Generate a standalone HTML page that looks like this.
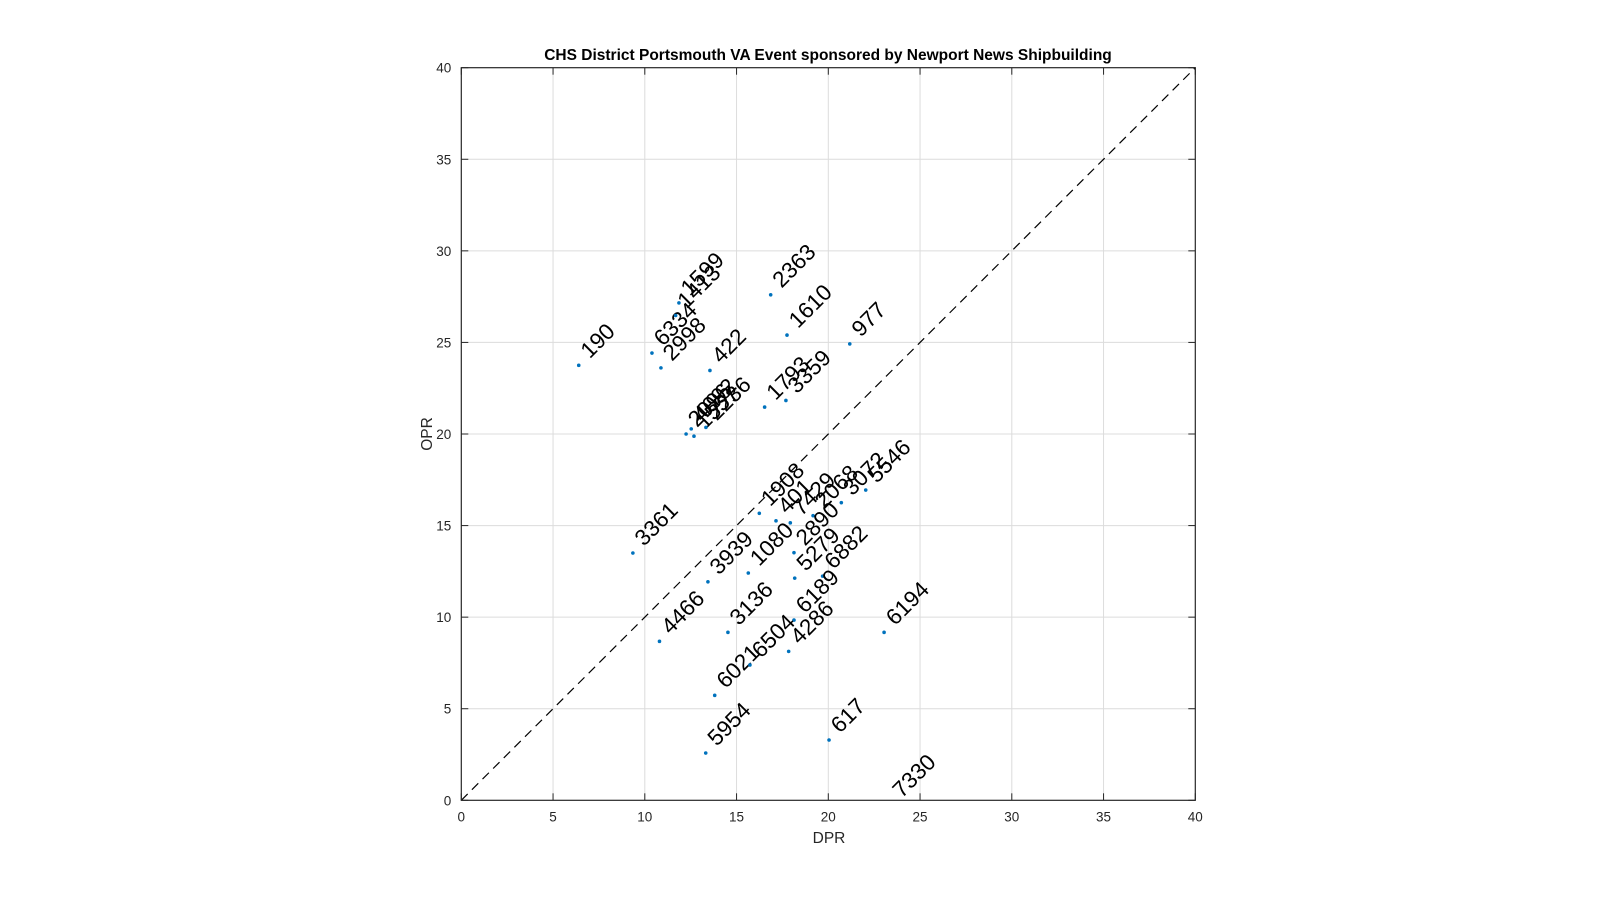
<!DOCTYPE html>
<html><head><meta charset="utf-8"><style>
body{margin:0;background:#fff;width:1600px;height:900px;overflow:hidden}
svg text{font-family:"Liberation Sans",Arial,sans-serif}
</style></head><body>
<svg id="chart" width="1600" height="900" xmlns="http://www.w3.org/2000/svg">
<rect width="1600" height="900" fill="#fff"/>
<g id="grid"></g>
<g id="marks"></g>
<g id="axes"></g>
<text x="828" y="60" text-anchor="middle" font-size="15.5" font-weight="bold">CHS District Portsmouth VA Event sponsored by Newport News Shipbuilding</text>
<text x="829" y="843" text-anchor="middle" font-size="15.5" fill="#262626">DPR</text>
<text transform="translate(432,434) rotate(-90)" text-anchor="middle" font-size="15.5" fill="#262626">OPR</text>
</svg>
<script>
const teams=["190","6334","2998","1599","1413","422","2363","1610","977","1793","3359","2096","4092","1557","2236","1908","401","7429","2068","3072","5546","2890","1080","3939","5279","6882","6189","3136","6194","4286","3361","4466","6021","6504","5954","617","7330"];
const dpr=[6.4,10.39,10.88,11.86,11.68,13.55,16.86,17.75,21.17,16.53,17.69,12.25,12.53,12.68,13.33,16.24,17.15,17.93,19.17,20.71,22.04,18.13,15.64,13.44,18.17,19.69,18.13,14.53,23.04,17.84,9.35,10.8,13.81,15.73,13.32,20.04,23.4];
const opr=[23.75,24.42,23.61,27.16,26.47,23.47,27.6,25.4,24.92,21.47,21.83,20.0,20.28,19.88,20.36,15.67,15.26,15.15,15.54,16.25,16.94,13.52,12.41,11.93,12.13,12.24,9.84,9.17,9.17,8.13,13.5,8.68,5.73,7.39,2.58,3.29,-0.25];
const ticks=[0,5,10,15,20,25,30,35,40];
const X0=461.3,X1=1195.3,Y0=800.3,Y1=67.7;
const sx=v=>X0+(v-0)/40*(X1-X0);
const sy=v=>Y0-(v-0)/40*(Y0-Y1);
const NS="http://www.w3.org/2000/svg";
function mk(tag,attrs,parent){const e=document.createElementNS(NS,tag);for(const k in attrs)e.setAttribute(k,attrs[k]);parent.appendChild(e);return e;}
const grid=document.getElementById('grid'),axes=document.getElementById('axes'),marks=document.getElementById('marks');
ticks.forEach(t=>{
  if(t>0&&t<40){
    const gx=mk('line',{x1:sx(t),x2:sx(t),y1:Y0,y2:Y1,stroke:'#dcdcdc','stroke-width':1},grid);
    
    
    const gy=mk('line',{x1:X0,x2:X1,y1:sy(t),y2:sy(t),stroke:'#dcdcdc','stroke-width':1},grid);
    
    
  }
  const tx=mk('line',{x1:sx(t),x2:sx(t),y1:Y0,y2:Y0-7,stroke:'#262626'},axes);
  
  
  const tx2=mk('line',{x1:sx(t),x2:sx(t),y1:Y1,y2:Y1+7,stroke:'#262626'},axes);
  
  
  const ty=mk('line',{x1:X0,x2:X0+7,y1:sy(t),y2:sy(t),stroke:'#262626'},axes);
  
  
  const ty2=mk('line',{x1:X1,x2:X1-7,y1:sy(t),y2:sy(t),stroke:'#262626'},axes);
  
  
  const lx=mk('text',{x:sx(t),y:Y0+21,'text-anchor':'middle','font-size':13.5,fill:'#262626'},axes);
  lx.textContent=t;
  
  
  const ly=mk('text',{x:X0-10,y:sy(t)+5,'text-anchor':'end','font-size':13.5,fill:'#262626'},axes);
  ly.textContent=t;
  
  
});
const frame=mk('rect',{x:X0,y:Y1,width:X1-X0,height:Y0-Y1,fill:'none',stroke:'#262626','stroke-width':1.2},axes);


const diag=mk('line',{x1:sx(0),y1:sy(0),x2:sx(40),y2:sy(40),stroke:'#000','stroke-width':1.2,'stroke-dasharray':'9,6'},marks);


teams.forEach((t,i)=>{
  const px=sx(dpr[i]),py=sy(opr[i]);
  if(opr[i]>=0){
    const c=mk('circle',{cx:px,cy:py,r:1.8,fill:'#0072bd'},marks);
    
    
  }
  const lb=mk('text',{transform:`translate(${px+11},${py-6}) rotate(-45)`,'font-size':22.5,fill:'#000'},marks);
  lb.textContent=t;
  
  
});
</script>
</body></html>
